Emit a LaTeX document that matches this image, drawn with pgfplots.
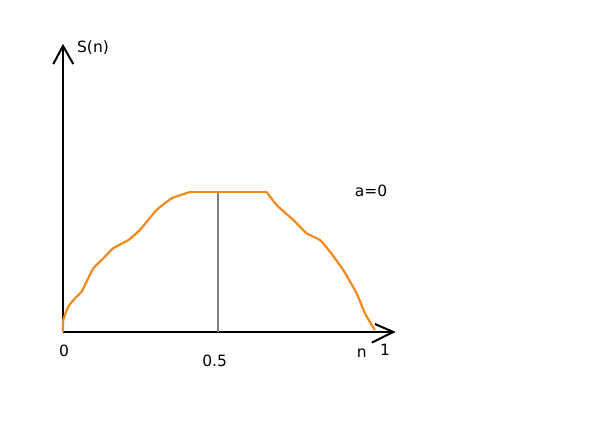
\documentclass[border=0pt]{standalone}
\usepackage{pgfplots}
\pgfplotsset{compat=1.18}
\usepackage{fontspec}
\setmainfont{DejaVu Sans}
\definecolor{curve}{RGB}{240,138,30}
\definecolor{midline}{RGB}{128,128,128}
\tikzset{lbl/.style={font=\fontsize{15.5}{18}\selectfont, text=black, inner sep=0pt}}
\begin{document}
\begin{tikzpicture}
\begin{axis}[
  width=590pt, height=425pt, scale only axis,
  xmin=-0.2032, xmax=1.7, ymin=-0.6643, ymax=2.3714,
  axis lines=none, clip=false,
]
\path[fill=white] (rel axis cs:0,0) rectangle (rel axis cs:1,1);
% axes
\draw[black, line width=2pt] (axis cs:0,0) -- (axis cs:0,2.043);
\draw[black, line width=2pt] (axis cs:-0.0313,1.914) -- (axis cs:0,2.043) -- (axis cs:0.0332,1.914);
\draw[black, line width=2pt] (axis cs:0,0) -- (axis cs:1.0655,0);
\draw[black, line width=2pt] (axis cs:1.0065,0.057) -- (axis cs:1.0655,0) -- (axis cs:0.9958,-0.076);
% midline
\addplot[midline, line width=1.8pt] coordinates {(0.5,0) (0.5,1.0)};
% curve
\addplot[curve, line width=2.2pt, smooth, tension=0.3] coordinates {
(0,0) (0.001,0.086) (0.017,0.181) (0.039,0.241) (0.060,0.288) (0.076,0.359)
(0.098,0.455) (0.130,0.526) (0.162,0.598) (0.211,0.657) (0.248,0.729)
(0.302,0.871) (0.351,0.955) (0.410,1.0)};
\addplot[curve, line width=2.2pt] coordinates {(0.410,1.0) (0.657,1.0)};
\addplot[curve, line width=2.2pt, smooth, tension=0.3] coordinates {
(0.657,1.0) (0.689,0.907) (0.743,0.800) (0.786,0.705) (0.829,0.657)
(0.861,0.574) (0.904,0.443) (0.947,0.276) (0.974,0.134) (0.996,0.05) (1.006,0.014)};
% labels
\node[lbl] at (axis cs:0.0968,2.029) {S(n)};
\node[lbl] at (axis cs:0.9935,1.007) {a=0};
\node[lbl] at (axis cs:0.0032,-0.136) {0};
\node[lbl] at (axis cs:0.489,-0.207) {0.5};
\node[lbl] at (axis cs:0.9635,-0.15) {n};
\node[lbl] at (axis cs:1.0387,-0.129) {1};
\end{axis}
\end{tikzpicture}
\end{document}
